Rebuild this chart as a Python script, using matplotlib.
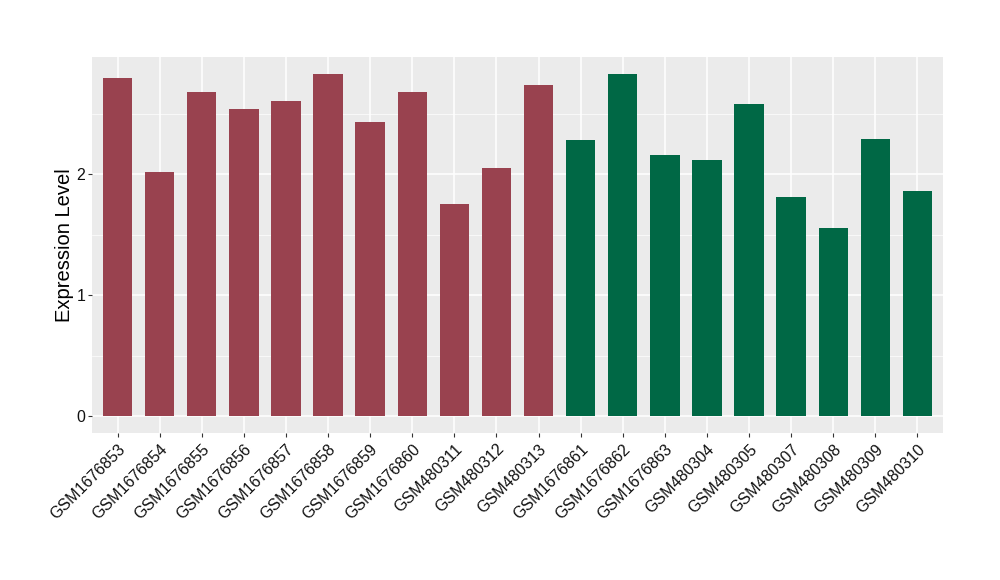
import matplotlib
matplotlib.use("Agg")
import matplotlib.pyplot as plt
from matplotlib.ticker import MultipleLocator

# samples and expression values
samples = ["GSM1676853", "GSM1676854", "GSM1676855", "GSM1676856", "GSM1676857",
           "GSM1676858", "GSM1676859", "GSM1676860", "GSM480311", "GSM480312",
           "GSM480313", "GSM1676861", "GSM1676862", "GSM1676863", "GSM480304",
           "GSM480305", "GSM480307", "GSM480308", "GSM480309", "GSM480310"]
values = [2.80, 2.02, 2.68, 2.54, 2.61, 2.83, 2.43, 2.68, 1.755, 2.053,
          2.74, 2.285, 2.83, 2.16, 2.12, 2.585, 1.815, 1.559, 2.293, 1.863]
groups = ["a"] * 11 + ["b"] * 9
group_colors = {"a": "#99424F", "b": "#006845"}

plt.rcParams["font.family"] = ["Liberation Sans", "DejaVu Sans"]

fig = plt.figure(figsize=(10, 5.8), dpi=100)
ax = fig.add_axes([0.0923, 0.2535, 0.8504, 0.6487])
ax.set_facecolor("#EBEBEB")

x = list(range(1, len(samples) + 1))
ax.bar(x, values, width=0.7, color=[group_colors[g] for g in groups], zorder=3)

ax.set_xlim(0.4, len(samples) + 0.6)
ax.set_ylim(-0.138, 2.974)
ax.set_xticks(x)
ax.set_xticklabels(samples, rotation=45, ha="right", rotation_mode="anchor",
                   fontsize=11.5, color="#111111")
ax.yaxis.set_major_locator(MultipleLocator(1))
ax.yaxis.set_minor_locator(MultipleLocator(0.5))
ax.tick_params(axis="y", labelsize=11.5, labelcolor="#111111", pad=2)
ax.tick_params(axis="x", pad=3)
ax.tick_params(axis="both", which="major", length=3, width=0.8, color="#333333")
ax.tick_params(axis="y", which="minor", length=0)
ax.grid(which="major", color="white", linewidth=1.1, zorder=1)
ax.grid(which="minor", axis="y", color="white", linewidth=0.5, zorder=1)
for s in ax.spines.values():
    s.set_visible(False)

ax.set_ylabel("Expression Level", fontsize=14.5)
ax.yaxis.set_label_coords(-0.022, 0.5)

fig.savefig("out.png", dpi=100)
